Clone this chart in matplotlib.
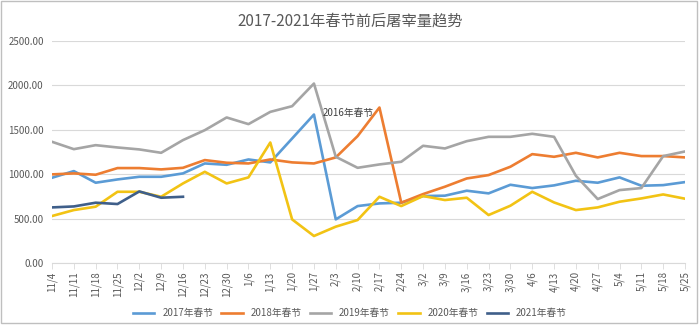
import matplotlib
matplotlib.use("Agg")
import matplotlib.pyplot as plt
from matplotlib.patches import Rectangle

plt.rcParams['font.family'] = ['Noto Sans CJK SC', 'DejaVu Sans']

dates = ['11/4', '11/11', '11/18', '11/25', '12/2', '12/9', '12/16', '12/23', '12/30',
         '1/6', '1/13', '1/20', '1/27', '2/3', '2/10', '2/17', '2/24', '3/2', '3/9',
         '3/16', '3/23', '3/30', '4/6', '4/13', '4/20', '4/27', '5/4', '5/11', '5/18', '5/25']

y2017 = [960, 1035, 904, 941, 971, 971, 1009, 1121, 1106, 1166, 1133, 1402, 1672, 491, 641,
         671, 679, 754, 758, 814, 784, 881, 844, 874, 926, 904, 964, 870, 877, 911]
y2018 = [998, 1009, 994, 1069, 1069, 1054, 1072, 1159, 1129, 1121, 1166, 1133, 1121, 1189,
         1429, 1751, 679, 776, 859, 952, 990, 1084, 1226, 1196, 1241, 1189, 1241, 1204, 1204, 1189]
y2019 = [1365, 1282, 1327, 1301, 1279, 1241, 1384, 1496, 1639, 1564, 1702, 1766, 2021, 1196,
         1072, 1110, 1140, 1320, 1290, 1372, 1421, 1421, 1455, 1421, 982, 720, 821, 844, 1204, 1256]
y2020 = [529, 596, 634, 802, 802, 746, 896, 1027, 896, 964, 1357, 491, 304, 409, 484, 746,
         641, 754, 709, 735, 540, 645, 802, 682, 596, 626, 690, 727, 772, 724]
y2021 = [626, 637, 679, 664, 806, 735, 746]

series = [
    ('2017年春节', y2017, '#5B9BD5'),
    ('2018年春节', y2018, '#ED7D31'),
    ('2019年春节', y2019, '#A5A5A5'),
    ('2020年春节', y2020, '#F2C314'),
    ('2021年春节', y2021, '#3F5F8A'),
]

fig = plt.figure(figsize=(7, 3.25), dpi=100)
ax = fig.add_axes([0.0743, 0.1908, 0.9043, 0.683])

x = list(range(len(dates)))
for name, vals, col in series:
    ax.plot(x[:len(vals)], vals, color=col, lw=1.9, label=name)

ax.set_xlim(0, len(dates) - 1)
ax.set_ylim(0, 2500)
ax.set_yticks([0, 500, 1000, 1500, 2000, 2500])
ax.set_yticklabels(['0.00', '500.00', '1000.00', '1500.00', '2000.00', '2500.00'])
ax.set_xticks(x)
ax.set_xticklabels(dates, rotation=90)
ax.tick_params(axis='y', length=0, labelsize=7, colors='#595959', pad=6)
ax.tick_params(axis='x', length=4, width=0.6, color='#D9D9D9', labelsize=7,
               labelcolor='#595959', pad=2)
ax.grid(axis='y', color='#D9D9D9', lw=0.8)
ax.set_axisbelow(True)
for s in ['top', 'right', 'left']:
    ax.spines[s].set_visible(False)
ax.spines['bottom'].set_color('#D9D9D9')

ax.text(12.4, 1684, '2016年春节', fontsize=7, color='#404040', va='center', ha='left')

fig.suptitle('2017-2021年春节前后屠宰量趋势', y=0.96, fontsize=11, color='#595959')
fig.legend(loc='center', bbox_to_anchor=(0.5, 0.037), ncol=5, frameon=False,
           fontsize=7, handlelength=2.2, columnspacing=0.85, labelcolor='#595959')

fig.patches.append(Rectangle((0.002, 0.006), 0.994, 0.99, transform=fig.transFigure,
                             fill=False, edgecolor='#BFBFBF', lw=1))

fig.savefig('out.png', dpi=100)
